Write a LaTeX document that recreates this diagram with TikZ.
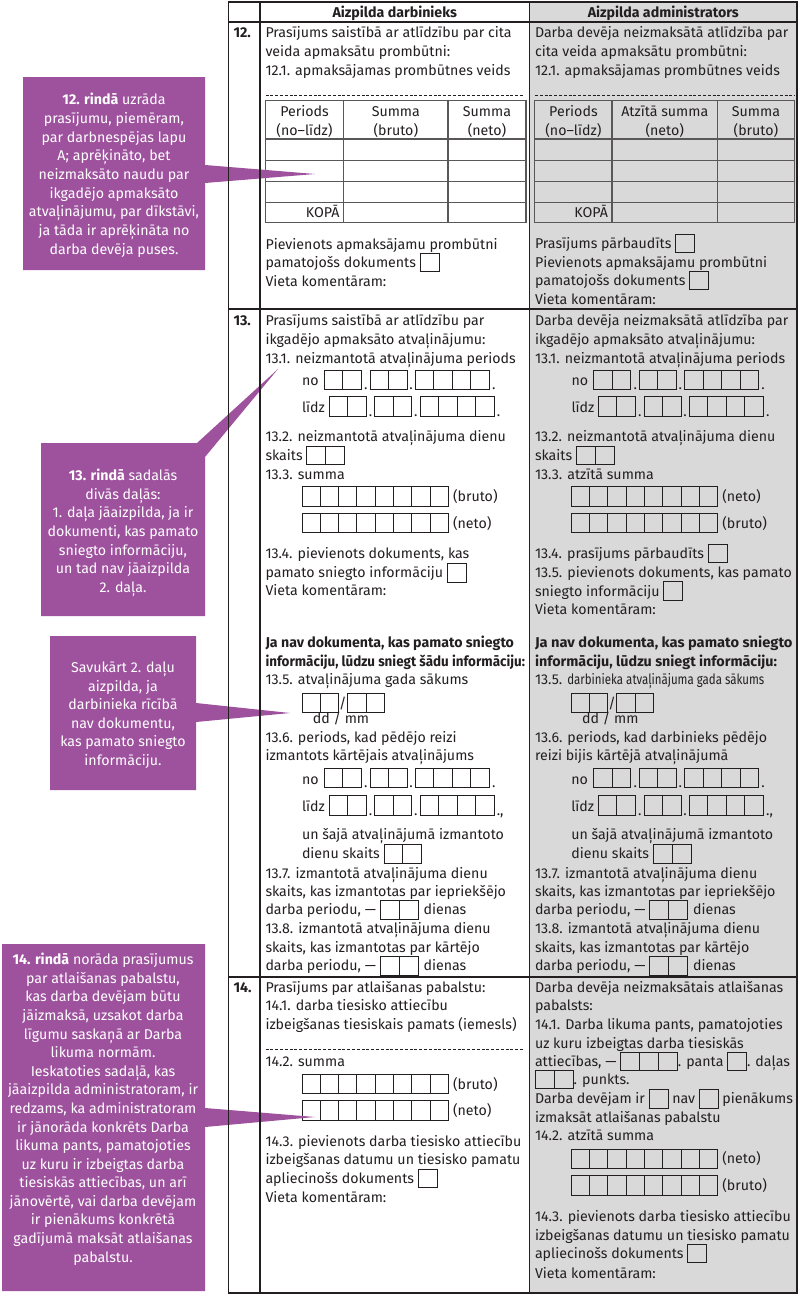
\documentclass[tikz,border=0pt]{standalone}
\usepackage{fontspec}
\setmainfont{Fira Sans}
\usepackage{graphicx}
\definecolor{purp}{RGB}{158,82,158}
\definecolor{adm}{RGB}{217,217,217}
\definecolor{ink}{RGB}{35,31,32}
\newcounter{tn}
\newcommand\fs{\fontsize{14.2}{18.7}\selectfont}
\newcommand\fitw[2]{\resizebox{#1}{\height}{#2}}
\newcount\cbcnt
\newcommand\cbx[1]{\raisebox{-3.8pt}{\setlength\fboxsep{0pt}\setlength\fboxrule{0.9pt}\fbox{\cbcnt=#1\relax\rule{0pt}{17.5pt}\hspace{18pt}\loop\ifnum\cbcnt>1 \vrule width 0.9pt\hspace{18pt}\advance\cbcnt by -1\relax\repeat}}}
\newcommand\tx[3]{\stepcounter{tn}\node[txt] (t\arabic{tn}) at ({#1},{#2}) {#3};}
\newcommand\tc[3]{\stepcounter{tn}\node[ctr] (t\arabic{tn}) at ({#1},{#2}) {#3};}
\newcommand\txr[3]{\stepcounter{tn}\node[rtxt] (t\arabic{tn}) at ({#1},{#2}) {#3};}
\newcommand\cells[4]{%
  \draw[cellline] ({#1},{#2}) rectangle ({#1+#3*#4},{#2+19.3});
  \ifnum#3>1 \foreach \k in {2,...,#3}{\draw[cellline] ({#1+(\k-1)*#4},{#2}) -- ({#1+(\k-1)*#4},{#2+19.3});}\fi}
\newcommand\daterow[3]{%
  \cells{#1}{#2}{2}{18.6}
  \tc{#1+41.6}{#2+19.3}{.}
  \cells{#1+45.8}{#2}{2}{18.5}
  \tc{#1+86.8}{#2+19.3}{.}
  \cells{#1+91}{#2}{4}{18.5}
  \tx{#1+167.8}{#2+19.3}{#3}}
\begin{document}
\begin{tikzpicture}[x=1pt,y=-1pt,
  txt/.style={anchor=base west, inner sep=0pt, outer sep=0pt, font=\fs, text=ink},
  ctr/.style={anchor=base, inner sep=0pt, outer sep=0pt, font=\fs, text=ink},
  rtxt/.style={anchor=base east, inner sep=0pt, outer sep=0pt, font=\fs, text=ink},
  wtxt/.style={anchor=base, inner sep=0pt, outer sep=0pt, font=\fs, text=white},
  formframe/.style={draw=ink, line width=1.8pt},
  tline/.style={draw=ink!75, line width=1.2pt},
  dashline/.style={draw=ink, line width=0.7pt, dash pattern=on 3pt off 1.8pt},
  cellline/.style={draw=ink, line width=0.9pt},
  calloutfill/.style={fill=purp}]
\useasboundingbox (0,0) rectangle (800,1296);
\fill[white] (0,0) rectangle (800,1296);
\fill[adm] (529.5,2) rectangle (797,1293.3);

% ---------- header ----------
\tc{394.75}{17}{\bfseries Aizpilda darbinieks}
\tc{663.25}{17}{\bfseries Aizpilda administrators}

% ---------- row 12 ----------
\tx{233.5}{37.5}{\bfseries 12.}
\tx{265.5}{37.5}{Prasījums saistībā ar atlīdzību par cita}
\tx{265.5}{56.5}{veida apmaksātu prombūtni:}
\tx{265.5}{75}{12.1. apmaksājamas prombūtnes veids}
\draw[dashline] (265.5,95) -- (524,95);
\draw[tline] (265.5,100.7) rectangle (526,222.7);
\foreach \yy in {139,160.7,181.7,202.3} \draw[tline] (265.5,\yy) -- (526,\yy);
\foreach \xx in {343.6,448} \draw[tline] (\xx,100.7) -- (\xx,222.7);
\tc{304.5}{116.5}{Periods}\tc{304.5}{135}{(no–līdz)}
\tc{395.8}{116.5}{Summa}\tc{395.8}{135}{(bruto)}
\tc{487}{116.5}{Summa}\tc{487}{135}{(neto)}
\txr{339.5}{217}{KOPĀ}
\tx{265.5}{249}{Pievienots apmaksājamu prombūtni}
\tx{265.5}{267.3}{pamatojošs dokuments \cbx{1}}
\tx{265.5}{286}{Vieta komentāram:}

\tx{535}{37.5}{Darba devēja neizmaksātā atlīdzība par}
\tx{535}{56.5}{cita veida apmaksātu prombūtni:}
\tx{535}{75}{12.1. apmaksājamas prombūtnes veids}
\draw[dashline] (535,95) -- (795,95);
\draw[tline] (534.8,100.7) rectangle (794.5,222.7);
\foreach \yy in {139,160.7,181.7,202.3} \draw[tline] (534.8,\yy) -- (794.5,\yy);
\foreach \xx in {612,717.6} \draw[tline] (\xx,100.7) -- (\xx,222.7);
\tc{573.4}{116.5}{Periods}\tc{573.4}{135}{(no–līdz)}
\tc{664.8}{116.5}{Atzītā summa}\tc{664.8}{135}{(neto)}
\tc{756}{116.5}{Summa}\tc{756}{135}{(bruto)}
\txr{608}{217}{KOPĀ}
\tx{535}{248.5}{Prasījums pārbaudīts \cbx{1}}
\tx{535}{267}{Pievienots apmaksājamu prombūtni}
\tx{535}{285.5}{pamatojošs dokuments \cbx{1}}
\tx{535}{304.3}{Vieta komentāram:}

% ---------- row 13 ----------
\tx{233.5}{325.5}{\bfseries 13.}
\tx{265.5}{325.5}{Prasījums saistībā ar atlīdzību par}
\tx{265.5}{344}{ikgadējo apmaksāto atvaļinājumu:}
\tx{265.5}{363}{13.1. neizmantotā atvaļinājuma periods}
\tx{302}{385.5}{no} \daterow{324.3}{370}{.}
\tx{302}{412.2}{līdz} \daterow{329}{396.7}{.}
\tx{265.5}{441.5}{13.2. neizmantotā atvaļinājuma dienu}
\tx{265.5}{460.5}{skaits \cbx{2}}
\tx{265.5}{479}{13.3. summa}
\cells{302}{486.7}{8}{18.3} \tx{453}{501.8}{(bruto)}
\cells{302}{513.3}{8}{18.3} \tx{453}{528.8}{(neto)}
\tx{265.5}{558.8}{13.4. pievienots dokuments, kas}
\tx{265.5}{577.8}{pamato sniegto informāciju \cbx{1}}
\tx{265.5}{595.8}{Vieta komentāram:}
\tx{265.5}{647.5}{\fitw{248.5pt}{\bfseries Ja nav dokumenta, kas pamato sniegto}}
\tx{265.5}{666.5}{\fitw{259.5pt}{\bfseries informāciju, lūdzu sniegt šādu informāciju:}}
\tx{265.5}{684.8}{13.5. atvaļinājuma gada sākums}
\cells{302}{693.3}{2}{18.2} \tc{342.8}{708.5}{/} \cells{347.6}{693.3}{2}{18.5}
\tc{341}{723.8}{dd / mm}
\tx{265.5}{742}{13.6. periods, kad pēdējo reizi}
\tx{265.5}{760.8}{izmantots kārtējais atvaļinājums}
\tx{302}{784}{no} \daterow{324.3}{768.3}{.}
\tx{302}{811.2}{līdz} \daterow{329}{795.7}{.,}
\tx{302}{839.8}{un šajā atvaļinājumā izmantoto}
\tx{302}{858.8}{dienu skaits \cbx{2}}
\tx{265.5}{878}{13.7. izmantotā atvaļinājuma dienu}
\tx{265.5}{896.5}{skaits, kas izmantotas par iepriekšējo}
\tx{265.5}{914.8}{darba periodu, — \cbx{2}\hspace{5pt}dienas}
\tx{265.5}{933}{13.8. izmantotā atvaļinājuma dienu}
\tx{265.5}{952.5}{skaits, kas izmantotas par kārtējo}
\tx{265.5}{970.8}{darba periodu, — \cbx{2}\hspace{5pt}dienas}

\tx{535}{325.5}{Darba devēja neizmaksātā atlīdzība par}
\tx{535}{344}{ikgadējo apmaksāto atvaļinājumu:}
\tx{535}{363}{13.1. neizmantotā atvaļinājuma periods}
\tx{571.5}{385.5}{no} \daterow{593.6}{370}{.}
\tx{571.5}{412.2}{līdz} \daterow{598.3}{396.7}{.}
\tx{535}{441.5}{13.2. neizmantotā atvaļinājuma dienu}
\tx{535}{460.5}{skaits \cbx{2}}
\tx{535}{479}{13.3. atzītā summa}
\cells{571.3}{486.7}{8}{18.3} \tx{722.3}{501.8}{(neto)}
\cells{571.3}{513.3}{8}{18.3} \tx{722.3}{528.8}{(bruto)}
\tx{535}{558.5}{13.4. prasījums pārbaudīts \cbx{1}}
\tx{535}{577.5}{13.5. pievienots dokuments, kas pamato}
\tx{535}{596}{sniegto informāciju \cbx{1}}
\tx{535}{614.8}{Vieta komentāram:}
\tx{535}{647.5}{\fitw{257.5pt}{\bfseries Ja nav dokumenta, kas pamato sniegto}}
\tx{535}{666.5}{\fitw{242pt}{\bfseries informāciju, lūdzu sniegt informāciju:}}
\tx{535}{684.8}{13.5. \fitw{197pt}{darbinieka atvaļinājuma gada sākums}}
\cells{571.3}{693.3}{2}{18.2} \tc{612.1}{708.5}{/} \cells{616.9}{693.3}{2}{18.5}
\tc{610.3}{723.8}{dd / mm}
\tx{535}{742}{13.6. periods, kad darbinieks pēdējo}
\tx{535}{760.8}{reizi bijis kārtējā atvaļinājumā}
\tx{571.3}{784}{no} \daterow{593.6}{768.3}{.}
\tx{571.3}{811.2}{līdz} \daterow{598.3}{795.7}{.,}
\tx{571.3}{839.8}{un šajā atvaļinājumā izmantoto}
\tx{571.3}{858.8}{dienu skaits \cbx{2}}
\tx{535}{878}{13.7. izmantotā atvaļinājuma dienu}
\tx{535}{896.5}{skaits, kas izmantotas par iepriekšējo}
\tx{535}{914.8}{darba periodu, — \cbx{2}\hspace{5pt}dienas}
\tx{535}{933}{13.8. izmantotā atvaļinājuma dienu}
\tx{535}{952.5}{skaits, kas izmantotas par kārtējo}
\tx{535}{970.8}{darba periodu, — \cbx{2}\hspace{5pt}dienas}

% ---------- row 14 ----------
\tx{233.5}{992}{\bfseries 14.}
\tx{265.5}{992}{Prasījums par atlaišanas pabalstu:}
\tx{265.5}{1010.8}{14.1. darba tiesisko attiecību}
\tx{265.5}{1029.8}{izbeigšanas tiesiskais pamats (iemesls)}
\draw[dashline] (265.5,1049.3) -- (524,1049.3);
\tx{265.5}{1066.5}{14.2. summa}
\cells{302}{1074}{8}{18.3} \tx{453}{1089}{(bruto)}
\cells{302}{1100.7}{8}{18.3} \tx{453}{1115.5}{(neto)}
\tx{265.5}{1146.5}{14.3. pievienots darba tiesisko attiecību}
\tx{265.5}{1164.8}{izbeigšanas datumu un tiesisko pamatu}
\tx{265.5}{1183.5}{apliecinošs dokuments \cbx{1}}
\tx{265.5}{1202.5}{Vieta komentāram:}

\tx{535}{992}{Darba devēja neizmaksātais atlaišanas}
\tx{535}{1010.8}{pabalsts:}
\tx{535}{1029.8}{14.1. Darba likuma pants, pamatojoties}
\tx{535}{1048.3}{uz kuru izbeigtas darba tiesiskās}
\tx{535}{1066.5}{attiecības, — \cbx{3}. panta \cbx{1}. daļas}
\tx{535}{1084.3}{\cbx{2}. punkts.}
\tx{535}{1103.8}{Darba devējam ir \cbx{1} nav \cbx{1} pienākums}
\tx{535}{1122}{izmaksāt atlaišanas pabalstu}
\tx{535}{1140.5}{14.2. atzītā summa}
\cells{571.3}{1149}{8}{18.3} \tx{722.3}{1163.8}{(neto)}
\cells{571.3}{1175.7}{8}{18.3} \tx{722.3}{1190}{(bruto)}
\tx{535}{1221.5}{14.3. pievienots darba tiesisko attiecību}
\tx{535}{1240.5}{izbeigšanas datumu un tiesisko pamatu}
\tx{535}{1258.5}{apliecinošs dokuments \cbx{1}}
\tx{535}{1278}{Vieta komentāram:}

% ---------- callouts ----------
\fill[calloutfill] (23,77) -- (205,77) -- (205,165) -- (315,174) -- (205,183) -- (205,270) -- (23,270) -- cycle;
\fill[calloutfill] (41,443) -- (197,443) -- (278,369) -- (205,457) -- (205,616) -- (41,616) -- cycle;
\fill[calloutfill] (50,636) -- (196,636) -- (196,703) -- (290,713) -- (196,722) -- (196,790) -- (50,790) -- cycle;
\fill[calloutfill] (2,944) -- (205,944) -- (205,1108) -- (315,1117) -- (205,1127) -- (205,1291) -- (2,1291) -- cycle;

\foreach [count=\i] \s in {{\textbf{12. rindā} uzrāda},{prasījumu, piemēram,},{par darbnespējas lapu},{A; aprēķināto, bet},{neizmaksāto naudu par},{ikgadējo apmaksāto},{atvaļinājumu, par dīkstāvi,},{ja tāda ir aprēķināta no},{darba devēja puses.}}
  \node[wtxt] (ca\i) at (114,{104.8+(\i-1)*18.65}) {\s};
\foreach [count=\i] \s in {{\textbf{13. rindā} sadalās},{divās daļās:},{1. daļa jāaizpilda, ja ir},{dokumenti, kas pamato},{sniegto informāciju,},{un tad nav jāaizpilda},{2. daļa.}}
  \node[wtxt] (cb\i) at (123,{480.5+(\i-1)*18.65}) {\s};
\foreach [count=\i] \s in {{Savukārt 2. daļu},{aizpilda, ja},{darbinieka rīcībā},{nav dokumentu,},{kas pamato sniegto},{informāciju.}}
  \node[wtxt] (cc\i) at (123,{672.5+(\i-1)*18.5}) {\s};
\foreach [count=\i] \s in {{\textbf{14. rindā} norāda prasījumus},{par atlaišanas pabalstu,},{kas darba devējam būtu},{jāizmaksā, uzsakot darba},{līgumu saskaņā ar Darba},{likuma normām.},{Ieskatoties sadaļā, kas},{jāaizpilda administratoram, ir},{redzams, ka administratoram},{ir jānorāda konkrēts Darba},{likuma pants, pamatojoties},{uz kuru ir izbeigtas darba},{tiesiskās attiecības, un arī},{jānovērtē, vai darba devējam},{ir pienākums konkrētā},{gadījumā maksāt atlaišanas},{pabalstu.}}
  \node[wtxt] (cd\i) at (103,{964.8+(\i-1)*18.58}) {\s};

% ---------- frame ----------
\draw[formframe] (228.5,2) rectangle (797,1293.3);
\draw[formframe] (260,2) -- (260,1293.3);
\draw[formframe] (529.5,2) -- (529.5,1293.3);
\foreach \yy in {22,309,976.7} \draw[formframe] (228.5,\yy) -- (797,\yy);
\end{tikzpicture}
\end{document}
